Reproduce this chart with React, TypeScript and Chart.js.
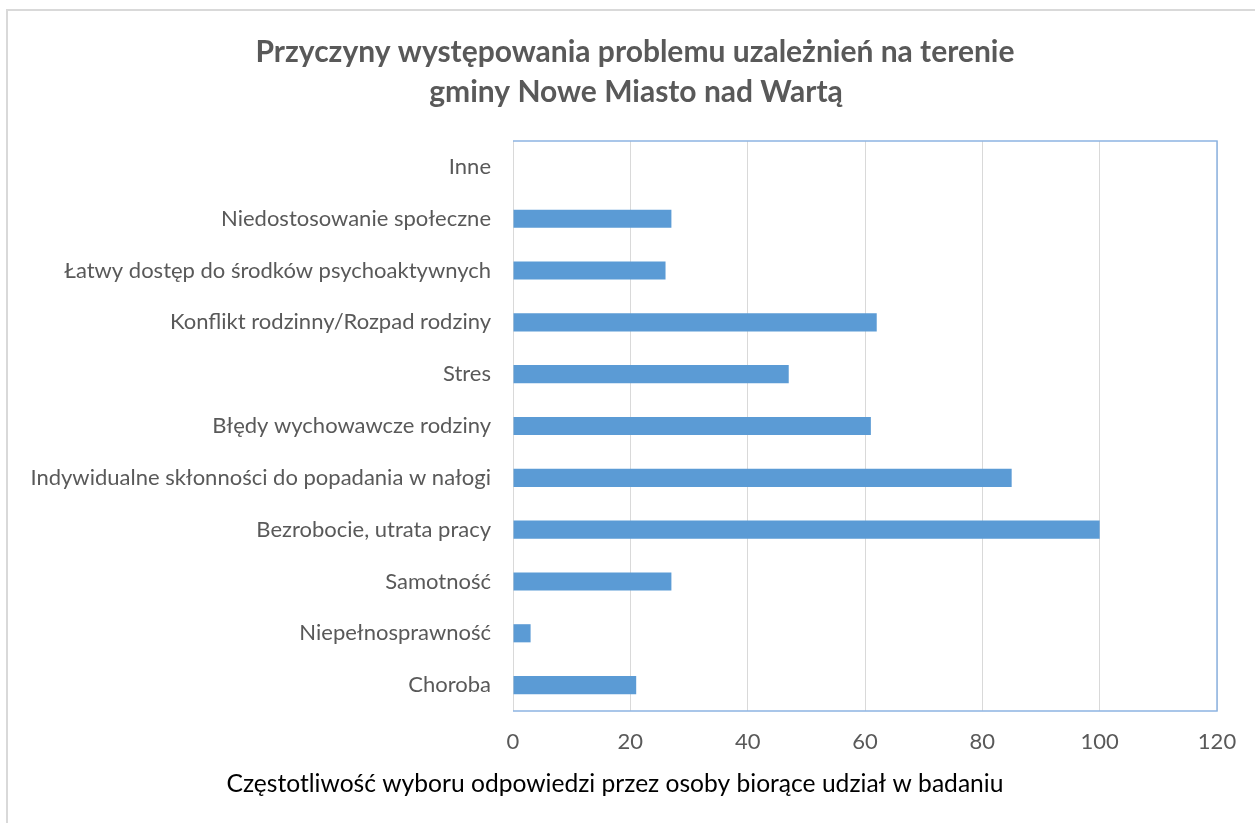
import React, { useEffect, useRef } from "react";
import { Chart, registerables } from "chart.js";

Chart.register(...registerables);

const categories = [
  "Inne",
  "Niedostosowanie społeczne",
  "Łatwy dostęp do środków psychoaktywnych",
  "Konflikt rodzinny/Rozpad rodziny",
  "Stres",
  "Błędy wychowawcze rodziny",
  "Indywidualne skłonności do popadania w nałogi",
  "Bezrobocie, utrata pracy",
  "Samotność",
  "Niepełnosprawność",
  "Choroba",
];
const values = [0, 27, 26, 62, 47, 61, 85, 100, 27, 3, 21];
const titleLines = [
  "Przyczyny występowania problemu uzależnień na terenie",
  "gminy Nowe Miasto nad Wartą",
];
const xAxisTitle = "Częstotliwość wyboru odpowiedzi przez osoby biorące udział w badaniu";
const xMin = 0;
const xMax = 120;
const xStep = 20;

const FONT = "Lato";

const decorPlugin = {
  id: "decor",
  beforeDatasetsDraw(chart: any) {
    const { ctx, chartArea } = chart;
    const { left, right, top, bottom } = chartArea;
    ctx.save();
    ctx.strokeStyle = "#8db4e2";
    ctx.lineWidth = 1.5;
    ctx.beginPath();
    ctx.moveTo(left, top);
    ctx.lineTo(right, top);
    ctx.lineTo(right, bottom);
    ctx.lineTo(left, bottom);
    ctx.stroke();
    ctx.restore();
  },
  afterDraw(chart: any) {
    const { ctx } = chart;
    ctx.save();
    ctx.strokeStyle = "#d9d9d9";
    ctx.lineWidth = 2;
    ctx.beginPath();
    ctx.moveTo(7, 823);
    ctx.lineTo(7, 10);
    ctx.lineTo(1255, 10);
    ctx.stroke();
    ctx.textAlign = "center";
    ctx.textBaseline = "middle";
    ctx.fillStyle = "#595959";
    ctx.font = `bold 30px ${FONT}`;
    ctx.fillText(titleLines[0], 635, 52);
    ctx.fillText(titleLines[1], 636, 92);
    ctx.fillStyle = "#000000";
    ctx.font = `24.6px ${FONT}`;
    ctx.fillText(xAxisTitle, 615, 784);
    ctx.restore();
  },
};

export default function App() {
  const ref = useRef<HTMLCanvasElement | null>(null);
  useEffect(() => {
    if (!ref.current) return;
    const chart = new Chart(ref.current, {
      type: "bar",
      data: {
        labels: categories,
        datasets: [
          {
            data: values,
            backgroundColor: "#5b9bd5",
            borderWidth: 0,
            barPercentage: 0.35,
            categoryPercentage: 1,
          },
        ],
      },
      options: {
        indexAxis: "y",
        responsive: false,
        animation: false,
        devicePixelRatio: 1,
        layout: { padding: { top: 141, left: 10, right: 38, bottom: 52 } },
        plugins: {
          legend: { display: false },
          tooltip: { enabled: false },
          title: { display: false },
        },
        scales: {
          x: {
            min: xMin,
            max: xMax,
            ticks: {
              stepSize: xStep,
              color: "#595959",
              font: { family: FONT, size: 22 },
              padding: 18,
            },
            grid: { color: "#d9d9d9", drawTicks: false, lineWidth: 1 },
            border: { display: false },
            afterFit: (s: any) => {
              s.height = 60;
            },
          },
          y: {
            ticks: {
              color: "#595959",
              font: { family: FONT, size: 22 },
              padding: 22,
            },
            grid: { display: false, drawTicks: false },
            border: { display: false },
            afterFit: (s: any) => {
              s.width = 503;
            },
          },
        },
      },
      plugins: [decorPlugin],
    } as any);
    return () => chart.destroy();
  }, []);
  return (
    <div style={{ position: "fixed", left: 0, top: 0, width: 1255, height: 823, background: "#fff" }}>
      <canvas ref={ref} width={1255} height={823} />
    </div>
  );
}
